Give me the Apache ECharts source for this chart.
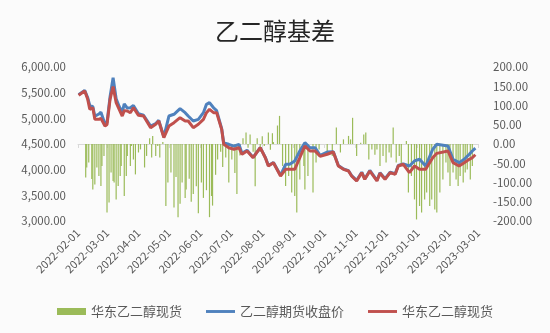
<!DOCTYPE html>
<html>
<head>
<meta charset="utf-8">
<script src="https://cdn.jsdelivr.net/npm/echarts@6/dist/echarts.min.js"></script>
<style>
  html, body { margin: 0; padding: 0; background: #fbfbfb; }
  #chart { width: 550px; height: 333px; }
</style>
</head>
<body>
<div id="chart"></div>
<script>
// Price series (yuan/ton)
const priceDates = [
  '2022-02-01','2022-02-07','2022-02-10','2022-02-12','2022-02-15','2022-02-17','2022-02-21','2022-02-23','2022-02-27','2022-03-01',
  '2022-03-04','2022-03-07','2022-03-10','2022-03-13','2022-03-16','2022-03-18','2022-03-21','2022-03-24','2022-03-27','2022-04-01',
  '2022-04-06','2022-04-13','2022-04-18','2022-04-21','2022-04-26','2022-05-01','2022-05-06','2022-05-12','2022-05-17','2022-05-20',
  '2022-05-25','2022-05-30','2022-06-04','2022-06-07','2022-06-10','2022-06-14','2022-06-17','2022-06-22','2022-06-24','2022-06-29',
  '2022-07-04','2022-07-09','2022-07-12','2022-07-17','2022-07-23','2022-07-30','2022-08-04','2022-08-07','2022-08-12','2022-08-19',
  '2022-08-24','2022-08-28','2022-09-02','2022-09-07','2022-09-12','2022-09-17','2022-09-22','2022-09-27','2022-10-04','2022-10-10',
  '2022-10-15','2022-10-20','2022-10-25','2022-10-28','2022-11-02','2022-11-07','2022-11-10','2022-11-15','2022-11-22','2022-11-25',
  '2022-11-30','2022-12-05','2022-12-10','2022-12-13','2022-12-18','2022-12-24','2022-12-29','2023-01-03','2023-01-09','2023-01-16',
  '2023-01-20','2023-01-31','2023-02-05','2023-02-11','2023-02-16','2023-02-21','2023-02-24','2023-02-27'
];
const futuresClose = [
  5460,5545,5400,5254,5230,5040,5084,5120,4890,4915,
  5420,5790,5380,5230,5120,5280,5200,5207,5250,5090,
  5060,4850,4900,4960,4640,5045,5079,5188,5110,5045,
  4948,4981,5110,5273,5305,5207,5150,4800,4520,4494,
  4460,4494,4320,4380,4240,4430,4240,4080,4140,3890,
  4105,4105,4170,4364,4526,4428,4428,4280,4344,4350,
  4080,4015,3980,3885,3790,3950,3820,3985,3790,3940,
  3825,3950,3920,4080,4110,4071,4170,4202,4071,4397,
  4494,4461,4202,4136,4202,4300,4364,4420
];
const eastChinaSpot = [
  5449,5532,5370,5176,5207,4981,4981,5000,4850,4880,
  5370,5620,5305,5176,5045,5150,5143,5110,5207,5059,
  5045,4818,4884,4948,4623,4850,4915,5013,4948,4948,
  4818,4884,4981,5110,5176,5110,5110,4786,4494,4428,
  4397,4428,4300,4364,4233,4428,4233,4071,4136,3877,
  4007,4007,4007,4233,4461,4364,4364,4260,4300,4344,
  4071,4007,3974,3877,3780,3941,3812,3974,3780,3929,
  3812,3941,3909,4071,4105,3941,4071,4007,4007,4233,
  4318,4364,4136,4071,4136,4202,4233,4290
];

// Basis series (yuan/ton, right axis)
const basisDates = [
  '2022-02-08','2022-02-09','2022-02-11','2022-02-14','2022-02-15','2022-02-17','2022-02-19','2022-02-21','2022-02-23','2022-02-24',
  '2022-02-26','2022-03-01','2022-03-03','2022-03-05','2022-03-07','2022-03-08','2022-03-10','2022-03-12','2022-03-14','2022-03-15',
  '2022-03-18','2022-03-20','2022-03-21','2022-03-24','2022-03-25','2022-03-27','2022-03-29','2022-04-01','2022-04-03','2022-04-07',
  '2022-04-09','2022-04-12','2022-04-14','2022-04-15','2022-04-18','2022-04-20','2022-04-22','2022-04-25','2022-04-28','2022-04-30',
  '2022-05-03','2022-05-06','2022-05-08','2022-05-10','2022-05-12','2022-05-14','2022-05-17','2022-05-18','2022-05-21','2022-05-23',
  '2022-05-25','2022-05-28','2022-05-30','2022-06-02','2022-06-04','2022-06-07','2022-06-10','2022-06-12','2022-06-13','2022-06-16',
  '2022-06-18','2022-06-21','2022-06-23','2022-06-26','2022-06-29','2022-07-02','2022-07-05','2022-07-07','2022-07-10','2022-07-13',
  '2022-07-16','2022-07-18','2022-07-20','2022-07-23','2022-07-25','2022-07-27','2022-07-30','2022-08-01','2022-08-03','2022-08-07',
  '2022-08-09','2022-08-11','2022-08-12','2022-08-16','2022-08-18','2022-08-21','2022-08-24','2022-08-27','2022-08-30','2022-09-02',
  '2022-09-04','2022-09-07','2022-09-11','2022-09-12','2022-09-15','2022-09-20','2022-09-23','2022-09-26','2022-10-04','2022-10-09',
  '2022-10-13','2022-10-17','2022-10-20','2022-10-25','2022-10-27','2022-10-29','2022-11-02','2022-11-06','2022-11-09','2022-11-11',
  '2022-11-14','2022-11-17','2022-11-20','2022-11-22','2022-11-25','2022-11-28','2022-12-01','2022-12-04','2022-12-06','2022-12-08',
  '2022-12-11','2022-12-14','2022-12-16','2022-12-21','2022-12-23','2022-12-26','2022-12-29','2022-12-31','2023-01-03','2023-01-05',
  '2023-01-08','2023-01-10','2023-01-13','2023-01-15','2023-01-18','2023-01-20','2023-01-23','2023-01-26','2023-01-29','2023-01-31',
  '2023-02-02','2023-02-05','2023-02-08','2023-02-10','2023-02-12','2023-02-15','2023-02-17','2023-02-19','2023-02-22','2023-02-24'
];
const basisValues = [
  -87,-61,-48,-91,-118,-105,-61,-83,-109,-57,
  -31,-178,-152,-74,-96,-100,-144,-109,-83,-57,
  -135,-83,-31,-57,-5,-40,-79,-22,-14,-61,
  -31,15,-35,21,-31,-5,-35,5,-161,-100,
  -74,-165,-86,-190,-155,-100,-140,-118,-90,-150,
  -130,-110,-180,-100,-140,-120,-190,-135,-160,-80,
  -40,-20,-60,-35,-100,-40,-75,-130,-30,15,
  30,-10,25,-20,-110,15,-20,20,-5,30,
  -15,28,5,48,73,-57,-109,-83,-126,-135,
  -178,-92,-57,-118,-83,-126,-48,-14,-22,-31,
  43,-22,12,21,12,68,-31,3,25,30,
  -40,-14,-28,-14,-57,-31,-48,-22,-35,43,
  -48,-31,-57,8,-126,-83,-144,-196,-161,-178,
  -144,-126,-161,-144,-170,-178,-126,-92,-48,-74,
  -109,-74,-92,-109,-83,-100,-74,-66,-92,-57
];

// Axis tick settings
const leftAxisRange = [3000, 6000, 500];
const rightAxisRange = [-200, 200, 50];
const xRange = ['2022-02-01', '2023-03-01'];

const DAY = 86400000;
// all dates are handled as UTC midnights so ticks land on month starts
const utc = s => { const [y, m, d] = s.split('-').map(Number); return Date.UTC(y, m - 1, d); };
const zip = (xs, ys) => xs.map((d, i) => [utc(d), ys[i]]);
const pad = n => String(n).padStart(2, '0');
// ticks are monthly: label each one with the month start it falls on
const monthLabel = v => {
  const d = new Date(v + 15 * DAY);
  return `${d.getUTCFullYear()}-${pad(d.getUTCMonth() + 1)}-01`;
};
const legendLabels = {
  '华东乙二醇基差': '华东乙二醇现货',
  '乙二醇期货收盘价': '乙二醇期货收盘价',
  '华东乙二醇现货': '华东乙二醇现货'
};
// thin horizontal stroke used as the legend key of the line series
const lineKey = 'path://M0,0 H30 V3 H0 Z';

const chart = echarts.init(document.getElementById('chart'), null, { renderer: 'canvas' });
const axisText = { color: '#595959', fontSize: 11, fontFamily: '"Noto Sans CJK SC", "Noto Sans", sans-serif' };

chart.setOption({
  useUTC: true,
  backgroundColor: '#fbfbfb',
  animation: false,
  title: {
    text: '乙二醇基差',
    left: 'center',
    top: 14,
    textStyle: { fontSize: 24, fontWeight: 'normal', color: '#262626', fontFamily: '"Noto Sans CJK SC", sans-serif' }
  },
  legend: {
    bottom: 10,
    left: 'center',
    itemWidth: 29,
    itemHeight: 7,
    itemGap: 24,
    textStyle: { color: '#595959', fontSize: 13, fontFamily: '"Noto Sans CJK SC", sans-serif' },
    formatter: name => legendLabels[name],
    data: [
      { name: '华东乙二醇基差', icon: 'rect' },
      { name: '乙二醇期货收盘价', icon: lineKey },
      { name: '华东乙二醇现货', icon: lineKey }
    ]
  },
  grid: { left: 78, right: 72, top: 67, bottom: 112, containLabel: false },
  xAxis: {
    type: 'time',
    min: utc(xRange[0]),
    max: utc(xRange[1]),
    splitNumber: 13,
    minInterval: 28 * DAY,
    maxInterval: 31 * DAY,
    axisLine: { show: true, lineStyle: { color: '#d9d9d9' } },
    axisTick: { show: true, length: 4, lineStyle: { color: '#d9d9d9' } },
    splitLine: { show: false },
    axisLabel: {
      ...axisText,
      rotate: 45,
      margin: 10,
      hideOverlap: false,
      showMinLabel: true,
      showMaxLabel: true,
      formatter: monthLabel
    }
  },
  yAxis: [
    {
      type: 'value',
      min: leftAxisRange[0], max: leftAxisRange[1], interval: leftAxisRange[2],
      axisLine: { show: false }, axisTick: { show: false }, splitLine: { show: false },
      axisLabel: {
        ...axisText, fontSize: 11.5, margin: 12,
        formatter: v => v.toLocaleString('en-US', { minimumFractionDigits: 2, maximumFractionDigits: 2 })
      }
    },
    {
      type: 'value',
      min: rightAxisRange[0], max: rightAxisRange[1], interval: rightAxisRange[2],
      axisLine: { show: false }, axisTick: { show: false }, splitLine: { show: false },
      axisLabel: { ...axisText, fontSize: 11.5, margin: 15, formatter: v => v.toFixed(2) }
    }
  ],
  series: [
    {
      name: '华东乙二醇基差',
      type: 'bar',
      yAxisIndex: 1,
      barWidth: 1.2,
      itemStyle: { color: '#9bbb59' },
      data: zip(basisDates, basisValues)
    },
    {
      name: '乙二醇期货收盘价',
      type: 'line',
      symbol: 'none',
      lineStyle: { color: '#4f81bd', width: 3 },
      itemStyle: { color: '#4f81bd' },
      data: zip(priceDates, futuresClose)
    },
    {
      name: '华东乙二醇现货',
      type: 'line',
      symbol: 'none',
      lineStyle: { color: '#c0504d', width: 3 },
      itemStyle: { color: '#c0504d' },
      data: zip(priceDates, eastChinaSpot)
    }
  ]
});
</script>
</body>
</html>
